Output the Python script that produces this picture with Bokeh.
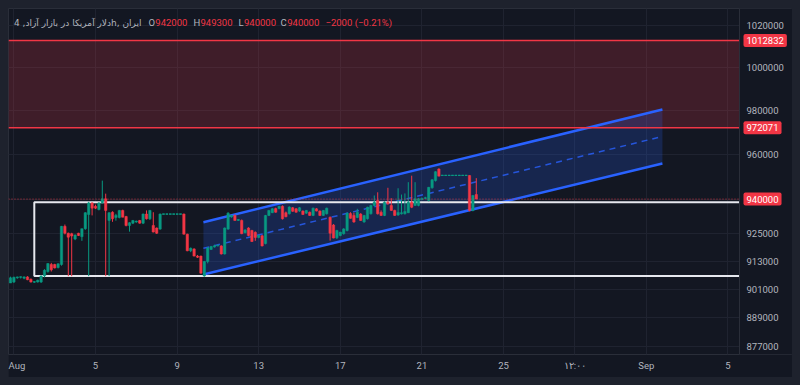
import numpy as np
from bokeh.plotting import figure
from bokeh.models import Range1d, FixedTicker, Span, BoxAnnotation, Label
from bokeh.embed import file_html
from bokeh.resources import INLINE

# ---------------- data ----------------
# 4-hour candles; time axis in days of August (Aug 1 00:00 = 1.0)
first_candle_day = 0.8333   # Jul 31 20:00
candle_step_days = 1 / 6    # 4 hours

opens = [903600, 904000, 905800, 906000, 905600, 906200, 905200, 903900, 904000, 904000,
         906600, 908500, 911500, 911500, 910200, 911500, 928000, 925000, 924800, 922500,
         925000, 923500, 927000, 933200, 938300, 936800, 935400, 938400, 940100, 930600,
         934200, 931900, 931900, 935000, 932300, 928400, 929400, 929900, 930600, 929400,
         933400, 931300, 928400, 927300, 926800, 933400, 933400, 933400, 933400, 933400,
         933400, 933400, 924600, 917400, 918200, 915100, 915100, 906600, 912800, 918000,
         919000, 919600, 919500, 916000, 926800, 932100, 932800, 930600, 930600, 925200,
         927300, 926200, 925400, 923200, 923900, 920500, 932800, 934000, 935800, 935800,
         936800, 934000, 933500, 936200, 935700, 934700, 934700, 933800, 934200, 932800,
         935700, 934700, 932800, 933500, 932000, 928600, 923000, 924000, 924800, 926200,
         933600, 932800, 931900, 933400, 929900, 931300, 933500, 937200, 939400, 934200,
         932800, 938600, 937200, 935000, 933000, 933500, 933500, 934000, 938600, 937200,
         937200, 939800, 940300, 939400, 945000, 948200, 953400, 950500, 950500, 950500,
         950500, 950500, 950500, 950500, 950500, 950500, 935000, 942000]
highs = [906300, 906300, 906300, 906400, 906400, 906500, 905500, 904400, 905000, 906800,
         909500, 912000, 912200, 911800, 912000, 928200, 928800, 925300, 925200, 924500,
         925200, 927000, 934200, 938800, 938600, 937500, 938600, 948200, 942400, 934200,
         934600, 933500, 935200, 935300, 932600, 929800, 930800, 930500, 930800, 933600,
         935000, 935200, 934200, 927500, 933600, 933400, 933400, 933400, 933400, 933400,
         933400, 933600, 924800, 918800, 918500, 915600, 915300, 913000, 919000, 919500,
         920000, 920000, 919800, 927500, 934200, 933000, 933200, 931200, 931000, 926800,
         927600, 926500, 925800, 924200, 924300, 933000, 935200, 936000, 936200, 937000,
         937200, 934500, 936800, 936500, 936000, 936500, 935000, 935200, 934500, 936200,
         936000, 935000, 935200, 936200, 932300, 929000, 926500, 925600, 927200, 934000,
         934200, 934000, 935700, 933800, 933000, 936600, 937500, 941600, 943000, 935000,
         939000, 945000, 940400, 935300, 944800, 942000, 942500, 947500, 950400, 947500,
         940500, 940600, 941000, 945400, 948800, 952400, 953700, 950500, 950500, 950500,
         950500, 950500, 950500, 950500, 950500, 950600, 941800, 949300]
lows = [903600, 903600, 905400, 905500, 905200, 904800, 903800, 903600, 903800, 903600,
        906000, 908000, 908500, 909800, 909800, 911000, 924500, 906500, 906500, 922000,
        923800, 921700, 926500, 906500, 932800, 935600, 935000, 938000, 906500, 906500,
        930000, 930500, 931500, 932000, 928000, 925700, 929000, 929600, 929200, 929000,
        931000, 930800, 925400, 924700, 926500, 933400, 933400, 933400, 933400, 933400,
        933400, 924500, 917200, 916800, 915000, 914300, 907600, 906300, 912000, 917800,
        918800, 919200, 915800, 915800, 926500, 931800, 930500, 930400, 924600, 925000,
        923700, 921200, 921700, 922800, 919300, 920200, 932500, 933800, 934000, 935500,
        931000, 932000, 933200, 934400, 934000, 934400, 933000, 933500, 932600, 932500,
        934600, 932600, 932600, 933200, 921800, 922800, 922500, 923700, 924400, 925800,
        931400, 929600, 931600, 930400, 929600, 931000, 933200, 936800, 933200, 932600,
        932500, 937500, 934800, 932600, 932600, 933200, 933200, 933800, 936000, 937000,
        936800, 939500, 940000, 939000, 944600, 947800, 950200, 950500, 950500, 950500,
        950500, 950500, 950500, 950500, 950500, 934600, 934600, 940000]
closes = [905800, 906000, 906200, 906300, 906200, 905000, 904000, 904200, 904800, 906600,
          909000, 911900, 909200, 910000, 911800, 928000, 925000, 923300, 923800, 924200,
          924000, 927000, 934000, 938300, 936000, 936000, 938300, 940100, 935000, 934000,
          931300, 932800, 935000, 932000, 928400, 929600, 930600, 930300, 929400, 933400,
          931300, 935000, 925500, 925000, 933400, 933400, 933400, 933400, 933400, 933400,
          933400, 924600, 917400, 918500, 915100, 914600, 907800, 912800, 918600, 919200,
          919600, 919800, 916000, 927300, 933800, 932800, 930600, 931000, 924800, 926400,
          924000, 921400, 923200, 924000, 919500, 932800, 935000, 935700, 934200, 936800,
          931300, 932200, 936500, 934600, 934200, 936200, 933200, 935000, 932800, 936000,
          934700, 932800, 935000, 936000, 925000, 922900, 926200, 925500, 926900, 933800,
          931500, 929900, 934200, 930600, 932800, 936400, 937200, 938600, 933500, 932800,
          938600, 937900, 935000, 932800, 934100, 934000, 934500, 938600, 936400, 940100,
          940100, 940300, 940600, 945200, 948600, 952200, 950200, 950500, 950500, 950500,
          950500, 950500, 950500, 950500, 950500, 935000, 941600, 940000]

# price-scale ticks and x-axis ticks
y_ticks = [877000, 889000, 901000, 913000, 925000, 940000, 960000, 980000, 1000000, 1020000]
x_ticks = [1, 5, 9, 13, 17, 21, 25, 28.5, 32, 36]
x_tick_labels = ["Aug", "5", "9", "13", "17", "21", "25", "۱۲:۰۰", "Sep", "5"]

# drawn levels
zone_top = 1012832
zone_bottom = 972071
last_price = 940000
range_left_day = 2.0
range_top = 938600
range_bottom = 906600
channel_days = [10.29, 32.79]
channel_upper = [929830, 980470]
channel_lower = [907220, 955870]

title_text = "دلار آمریکا در بازار آزاد, 4h, ایران"
ohlc_labels = ["O", "H", "L", "C"]
ohlc_values = ["942000", "949300", "940000", "940000"]
change_text = "−2000 (−0.21%)"

# ---------------- styling ----------------
BG = "#131722"
GREEN = "#089981"
RED = "#f23645"
BLUE = "#2962ff"
TXT = "#b2b5be"
GRID = "#1f2330"
SEP = "#2a2e39"

X0 = 0.7353          # left edge of the chart
X_SCALE = 36.569     # where the price scale begins
X1 = 39.167          # right edge of the page area
p = figure(width=784, height=369,
           x_range=Range1d(X0, X1), y_range=Range1d(873700, 1028193),
           y_axis_type="log", y_axis_location=None,
           output_backend="svg", toolbar_location=None,
           background_fill_color=BG, border_fill_color=BG,
           min_border_left=0, min_border_top=0, min_border_right=0, min_border_bottom=23)
p.outline_line_color = SEP

# x axis
p.xaxis.ticker = FixedTicker(ticks=x_ticks, minor_ticks=[])
p.xaxis.major_label_overrides = {t: l for t, l in zip(x_ticks, x_tick_labels)}
p.xaxis.axis_line_color = None
p.xaxis.major_tick_line_color = None
p.xaxis.minor_tick_line_color = None
p.xaxis.major_tick_out = 0
p.xaxis.major_tick_in = 0
p.xaxis.major_label_text_color = TXT
p.xaxis.major_label_text_font = "Roboto"
p.xaxis.major_label_text_font_size = "9.5px"
p.xaxis.major_label_standoff = 5
p.xgrid.grid_line_color = GRID

# horizontal grid at the price-scale ticks
p.ygrid.ticker = FixedTicker(ticks=y_ticks, minor_ticks=[])
p.ygrid.grid_line_color = GRID

# red resistance zone
p.add_layout(BoxAnnotation(bottom=zone_bottom, top=zone_top, fill_color=RED, fill_alpha=0.2,
                           line_color=None, level="underlay"))
for lv in (zone_top, zone_bottom):
    p.add_layout(Span(location=lv, dimension="width", line_color=RED, line_width=1.5))

# channel
cx = [channel_days[0], channel_days[1], channel_days[1], channel_days[0]]
cy = [channel_upper[0], channel_upper[1], channel_lower[1], channel_lower[0]]
p.patch(cx, cy, fill_color=BLUE, fill_alpha=0.2, line_color=None)
mid = [float(np.sqrt(u * l)) for u, l in zip(channel_upper, channel_lower)]
p.line(channel_days, mid, line_color=BLUE, line_width=1.5, line_dash="6 5", line_alpha=0.8)
p.line(channel_days, channel_upper, line_color=BLUE, line_width=2.5)
p.line(channel_days, channel_lower, line_color=BLUE, line_width=2.5)

# white range rectangle
p.line([X_SCALE, range_left_day, range_left_day, X_SCALE],
       [range_top, range_top, range_bottom, range_bottom],
       line_color="#e6e8ee", line_width=2)

# last price dotted line
p.add_layout(Span(location=last_price, dimension="width", line_color=RED, line_width=1,
                  line_dash="1 2", line_alpha=0.8))

# candles
o = np.array(opens, float); h = np.array(highs, float)
lo = np.array(lows, float); c = np.array(closes, float)
days = first_candle_day + np.arange(len(o)) * candle_step_days
up = c >= o
cols = np.where(up, GREEN, RED)
w = candle_step_days * 0.7
p.segment(days, h, days, lo, line_color=list(cols), line_width=1)
p.vbar(x=days[up], width=w, top=c[up], bottom=o[up], fill_color=GREEN, line_color=GREEN, line_width=0.5)
p.vbar(x=days[~up], width=w, top=o[~up], bottom=c[~up], fill_color=RED, line_color=RED, line_width=0.5)
doji = o == c
p.segment(days[doji] - w / 2, o[doji], days[doji] + w / 2, o[doji], line_color=GREEN, line_width=1.2)

# title row
p.add_layout(Label(x=133, y=332, x_units="screen", y_units="screen", text=title_text,
                   text_align="right", text_baseline="middle", text_color=TXT,
                   text_font="DejaVu Sans", text_font_size="9px"))
lx = [140, 185, 230, 272]
vx = [146.8, 192, 235.5, 278.7]
for k in range(4):
    p.add_layout(Label(x=lx[k], y=332, x_units="screen", y_units="screen", text=ohlc_labels[k],
                       text_baseline="middle", text_color=TXT, text_font="Roboto", text_font_size="9.5px"))
    p.add_layout(Label(x=vx[k], y=332, x_units="screen", y_units="screen", text=ohlc_values[k],
                       text_baseline="middle", text_color=RED, text_font="Roboto", text_font_size="9.5px"))
p.add_layout(Label(x=317, y=332, x_units="screen", y_units="screen", text=change_text,
                   text_baseline="middle", text_color=RED, text_font="Roboto", text_font_size="9.5px"))

# ---- price scale on the right (drawn inside the frame so that tags can overlap it) ----
p.add_layout(BoxAnnotation(left=X_SCALE, fill_color=BG, fill_alpha=1.0, line_color=None))
p.add_layout(Span(location=X_SCALE, dimension="height", line_color=SEP, line_width=1))
scale_x = 738  # screen x of tick labels (frame relative)
for t in y_ticks:
    p.add_layout(Label(x=scale_x, y=t, x_units="screen", y_units="data", text=str(t),
                       text_baseline="middle", text_color=TXT, text_font="Roboto",
                       text_font_size="9.5px"))
for lv in (zone_top, zone_bottom, last_price):
    p.add_layout(Label(x=735, y=lv, x_units="screen", y_units="data", text=str(lv),
                       text_baseline="middle", text_color="#ffffff", text_font="Roboto",
                       text_font_size="9.5px", background_fill_color=RED, padding=3,
                       border_radius=2))

html = file_html(p, INLINE)
html = html.replace("<head>",
                    "<head><style>html{background:#1e222d !important;} "
                    "body{padding:8px !important; background:#1e222d !important;}</style>", 1)
open("out.html", "w").write(html)
